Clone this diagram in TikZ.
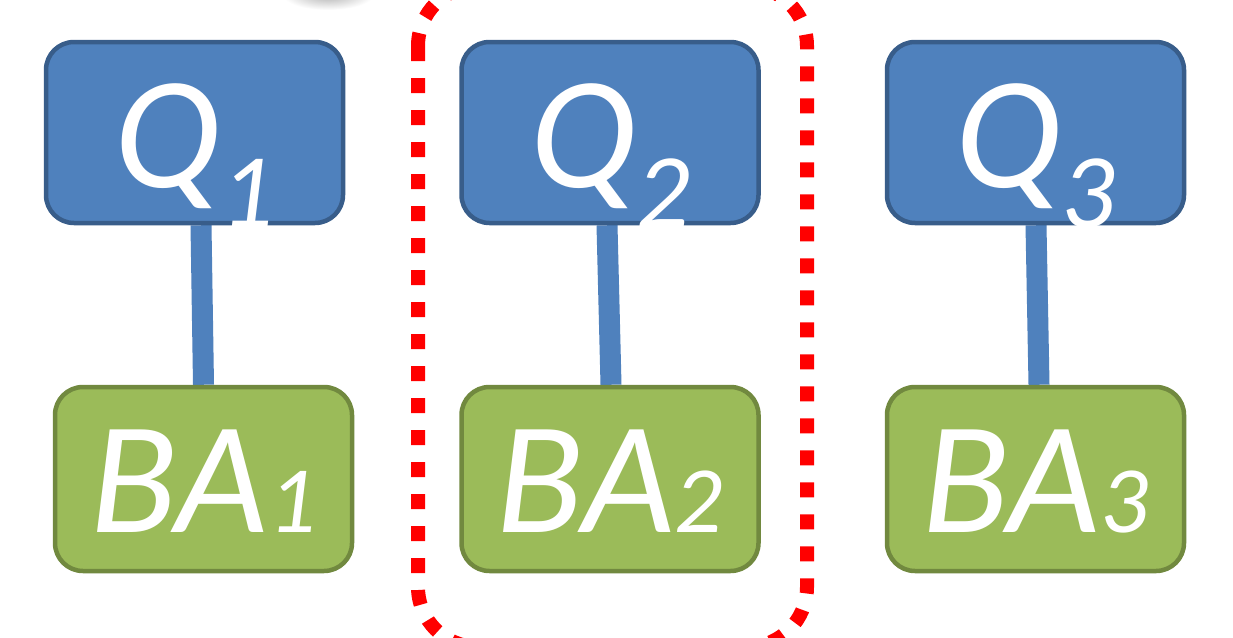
\documentclass[tikz,border=0pt]{standalone}
\usepackage{fontspec}
\setmainfont{Carlito}
\usetikzlibrary{backgrounds}
\definecolor{qfill}{HTML}{4F81BD}
\definecolor{qline}{HTML}{385D8A}
\definecolor{bafill}{HTML}{9BBB59}
\definecolor{baline}{HTML}{71893F}
\definecolor{groupred}{HTML}{FF0000}
\tikzset{
  box/.style={rounded corners=28pt, line width=4.5pt, inner sep=0pt,
    minimum width=297pt, text=white, anchor=base,
    font=\fontsize{160}{160}\selectfont\itshape},
  qbox/.style={box, fill=qfill, draw=qline, text height=145pt, text depth=36pt},
  babox/.style={box, fill=bafill, draw=baline, text height=145pt, text depth=39pt},
  link/.style={draw=qfill, line width=21pt},
  groupline/.style={draw=groupred, line width=14pt, dash pattern=on 15pt off 17pt,
    rounded corners=60pt},
}
% lowered subscript for the Q labels, smaller digit on the baseline for BA
\newcommand{\qsub}[1]{\raisebox{-40pt}{\fontsize{106}{106}\selectfont #1}}
\newcommand{\basub}[1]{{\fontsize{95}{95}\selectfont #1}}

\begin{document}
\begin{tikzpicture}[x=1pt,y=-1pt]
\useasboundingbox (0,0) rectangle (1233,637);
\clip (0,0) rectangle (1233,637);

% upper row
\node[qbox] (Q1) at (194.5,187) {Q\qsub{1}};
\node[qbox] (Q2) at (610,187) {Q\qsub{2}};
\node[qbox] (Q3) at (1035.5,187) {Q\qsub{3}};

% lower row
\node[babox] (BA1) at (203.5,532) {BA\basub{1}};
\node[babox] (BA2) at (610,532) {BA\basub{2}};
\node[babox] (BA3) at (1035.5,532) {BA\basub{3}};

% page, soft grey shadow at the top edge, and the links behind the boxes
\begin{scope}[on background layer]
  \fill[white] (0,0) rectangle (1233,637);
  \shade[inner color=black!32, outer color=white] (328,-6) ellipse [x radius=46, y radius=16];
  \draw[link] ([xshift=6.5pt]Q1.south) -- (BA1.north);
  \draw[link] ([xshift=-3pt]Q2.south) -- ([xshift=1pt]BA2.north);
  \draw[link] ([xshift=0.5pt]Q3.south) -- ([xshift=3.5pt]BA3.north);
\end{scope}

% dotted group around the middle pair
\draw[groupline] (418,-14) rectangle (807,647);
\end{tikzpicture}
\end{document}
